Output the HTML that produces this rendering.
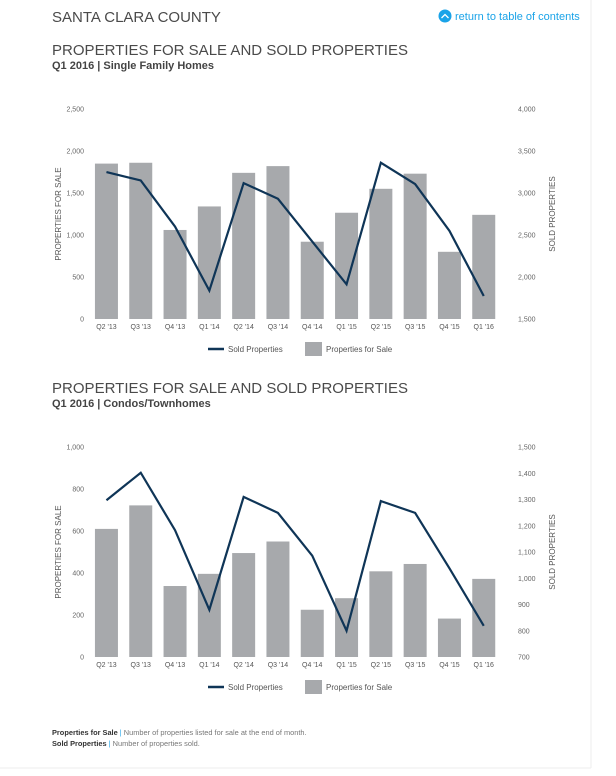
<!DOCTYPE html>
<html><head><meta charset="utf-8"><style>
body{margin:0;background:#fff;width:616px;height:776px;overflow:hidden;font-family:"Liberation Sans",Arial,sans-serif;}
svg{display:block}
</style></head><body>
<svg id="page" width="616" height="776" viewBox="0 0 616 776">
<line x1="591" y1="0" x2="591" y2="768" stroke="#eee"/>
<line x1="0" y1="768" x2="591" y2="768" stroke="#eee"/>
<text x="52" y="22" font-size="15" fill="#4a4a4a">SANTA CLARA COUNTY</text>
<g>
<circle cx="445" cy="16" r="6.5" fill="#1aa3e8"/>
<path d="M441.5 18 L445 14.5 L448.5 18" stroke="#fff" stroke-width="1.3" fill="none"/>
<text x="455" y="20" font-size="11" fill="#1aa3e8">return to table of contents</text>
</g>
<text x="52" y="55" font-size="15" fill="#4a4a4a" textLength="356">PROPERTIES FOR SALE AND SOLD PROPERTIES</text>
<text x="52" y="69" font-size="11" font-weight="bold" fill="#444">Q1 2016 | Single Family Homes</text>
<text x="52" y="393" font-size="15" fill="#4a4a4a" textLength="356">PROPERTIES FOR SALE AND SOLD PROPERTIES</text>
<text x="52" y="407" font-size="11" font-weight="bold" fill="#444">Q1 2016 | Condos/Townhomes</text>
<g id="c1"></g>
<g id="c2"></g>
<text x="52" y="735" font-size="7.4" fill="#333" font-weight="bold">Properties for Sale <tspan fill="#1aa3e8" font-weight="normal">|</tspan><tspan fill="#777" font-weight="normal"> Number of properties listed for sale at the end of month.</tspan></text>
<text x="52" y="746" font-size="7.4" fill="#333" font-weight="bold">Sold Properties <tspan fill="#1aa3e8" font-weight="normal">|</tspan><tspan fill="#777" font-weight="normal"> Number of properties sold.</tspan></text>
</svg>
<script>
const categories=["Q2 '13","Q3 '13","Q4 '13","Q1 '14","Q2 '14","Q3 '14","Q4 '14","Q1 '15","Q2 '15","Q3 '15","Q4 '15","Q1 '16"];
const sfhForSale=[1850,1860,1060,1340,1740,1820,920,1265,1550,1730,800,1240];
const sfhSold=[3249,3149,2600,1838,3118,2931,2422,1913,3360,3106,2549,1774];
const sfhLeftTicks=[0,500,1000,1500,2000,2500];
const sfhRightTicks=[1500,2000,2500,3000,3500,4000];
const condoForSale=[610,722,338,396,495,550,225,280,408,443,183,372];
const condoSold=[1297,1402,1183,880,1310,1249,1086,800,1294,1249,1038,819];
const condoLeftTicks=[0,200,400,600,800,1000];
const condoRightTicks=[700,800,900,1000,1100,1200,1300,1400,1500];
const NS="http://www.w3.org/2000/svg";
function mk(parent,tag,attrs,text){const e=document.createElementNS(NS,tag);for(const k in attrs)e.setAttribute(k,attrs[k]);if(text!==undefined)e.textContent=text;parent.appendChild(e);return e;}
function fmt(v){return v.toLocaleString('en-US');}
function draw(gid,top,bars,line,lt,rt){
  const g=document.getElementById(gid);
  const bottom=top+210, x0=89.3, band=34.3, bw=23;
  const lmin=lt[0],lmax=lt[lt.length-1],rmin=rt[0],rmax=rt[rt.length-1];
  const yL=v=>bottom-(v-lmin)/(lmax-lmin)*210;
  const yR=v=>bottom-(v-rmin)/(rmax-rmin)*210;
  const xC=i=>x0+band*(i+0.5);
  lt.forEach(t=>{const e=mk(g,'text',{x:84,y:yL(t)+2.5,'font-size':7,fill:'#666','text-anchor':'end'},fmt(t));
    
    });
  rt.forEach(t=>{const e=mk(g,'text',{x:518,y:yR(t)+2.5,'font-size':7,fill:'#666'},fmt(t));
    
    });
  const ya=mk(g,'text',{transform:`translate(61,${top+105}) rotate(-90)`,'font-size':8,fill:'#555','text-anchor':'middle'},'PROPERTIES FOR SALE');
  
  
  const yb=mk(g,'text',{transform:`translate(555,${top+105}) rotate(-90)`,'font-size':8,fill:'#555','text-anchor':'middle'},'SOLD PROPERTIES');
  
  
  bars.forEach((v,i)=>{const r=mk(g,'rect',{x:xC(i)-bw/2,y:yL(v),width:bw,height:bottom-yL(v),fill:'#a7a9ac'});
    
    });
  categories.forEach((c,i)=>{const e=mk(g,'text',{x:xC(i),y:bottom+10,'font-size':7,fill:'#555','text-anchor':'middle'},c);
    
    });
  const p=mk(g,'polyline',{points:line.map((v,i)=>xC(i)+','+yR(v)).join(' '),fill:'none',stroke:'#0f3557','stroke-width':2.2,'stroke-linejoin':'miter'});
  
  
  const lg=mk(g,'g',{});
  
  
  const ly=bottom+30;
  mk(lg,'line',{x1:208,y1:ly,x2:224,y2:ly,stroke:'#0f3557','stroke-width':2.5});
  mk(lg,'text',{x:228,y:ly+3,'font-size':8,fill:'#555'},'Sold Properties');
  mk(lg,'rect',{x:305,y:ly-7,width:17,height:14,fill:'#a7a9ac'});
  mk(lg,'text',{x:326,y:ly+3,'font-size':8,fill:'#555'},'Properties for Sale');
}
draw('c1',109,sfhForSale,sfhSold,sfhLeftTicks,sfhRightTicks);
draw('c2',447,condoForSale,condoSold,condoLeftTicks,condoRightTicks);
</script>
</body></html>
